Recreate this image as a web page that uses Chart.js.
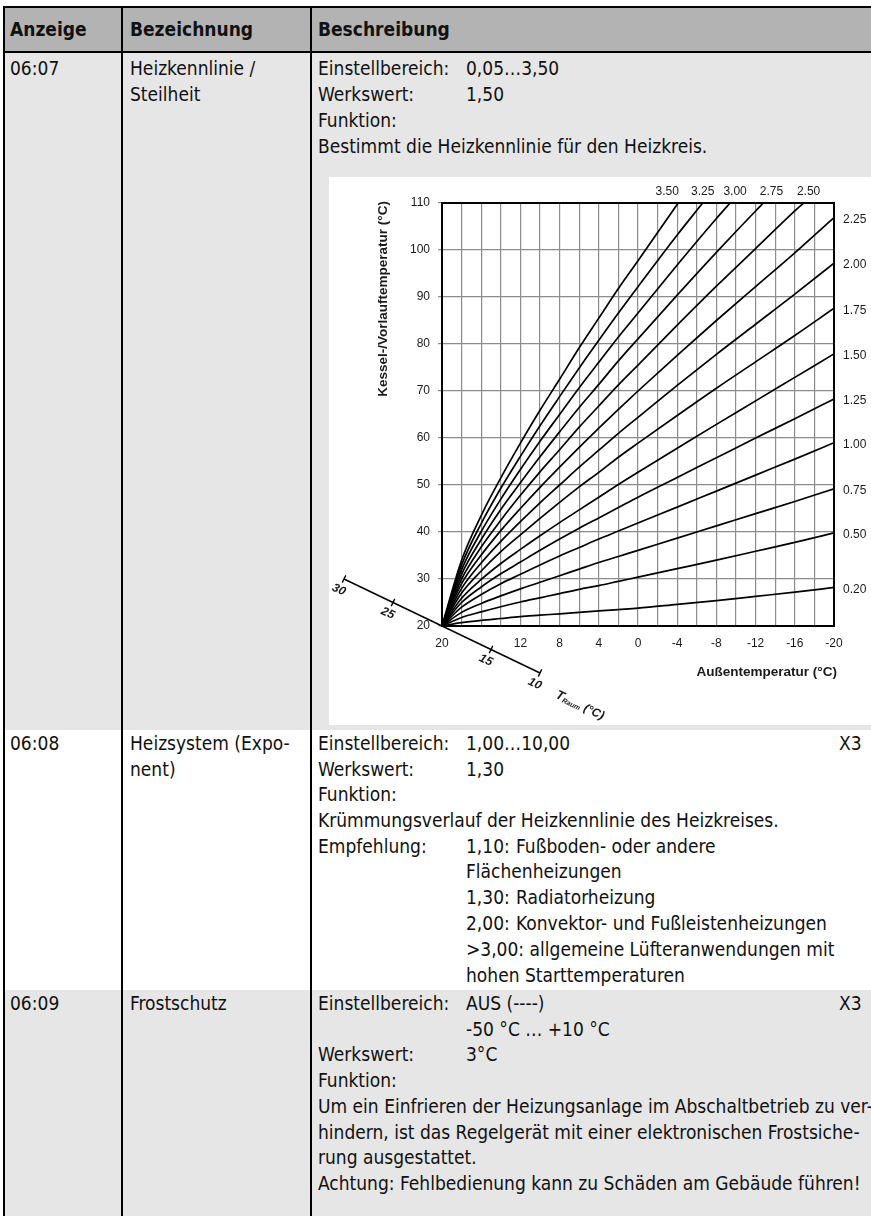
<!DOCTYPE html>
<html lang="de">
<head>
<meta charset="utf-8">
<title>Heizkennlinie / Steilheit</title>
<script src="https://cdn.jsdelivr.net/npm/chart.js@4.4.1/dist/chart.umd.min.js"></script>
<style>
  html, body { margin:0; padding:0; background:#fff; }
  body { width:871px; height:1216px; position:relative; overflow:hidden;
         font-family:"DejaVu Sans Condensed","DejaVu Sans",sans-serif; font-size:19px; color:#111; }
  .bg { position:absolute; left:4px; right:0; }
  .ln { position:absolute; background:#000; }
  .t { position:absolute; white-space:nowrap; line-height:26px; }
  .h { font-weight:bold; }
  #chartBox { position:absolute; left:329px; top:177px; width:542px; height:548px; background:#fff; }
</style>
</head>
<body>
<div class="bg" style="top:6px;height:46px;background:#b3b3b3"></div>
<div class="bg" style="top:52px;height:678px;background:#e6e6e6"></div>
<div class="bg" style="top:730px;height:260px;background:#fff"></div>
<div class="bg" style="top:990px;height:226px;background:#e6e6e6"></div>

<div class="ln" style="left:3px;right:0;top:6px;height:2px"></div>
<div class="ln" style="left:3px;right:0;top:51px;height:2px"></div>
<div class="ln" style="left:3px;width:2px;top:6px;bottom:0"></div>
<div class="ln" style="left:121px;width:2px;top:6px;bottom:0"></div>
<div class="ln" style="left:310px;width:2px;top:6px;bottom:0"></div>

<div class="t h" style="left:10px;top:16px">Anzeige</div>
<div class="t h" style="left:130px;top:16px">Bezeichnung</div>
<div class="t h" style="left:318px;top:16px">Beschreibung</div>

<div class="t" style="left:10px;top:55px">06:07</div>
<div class="t" style="left:130px;top:55px">Heizkennlinie /</div>
<div class="t" style="left:130px;top:81px">Steilheit</div>
<div class="t" style="left:318px;top:55px">Einstellbereich:</div>
<div class="t" style="left:466px;top:55px">0,05…3,50</div>
<div class="t" style="left:318px;top:81px">Werkswert:</div>
<div class="t" style="left:466px;top:81px">1,50</div>
<div class="t" style="left:318px;top:107px">Funktion:</div>
<div class="t" style="left:318px;top:133px">Bestimmt die Heizkennlinie für den Heizkreis.</div>

<div id="chartBox"><canvas id="chart-heizkennlinie" width="542" height="548"></canvas></div>

<div class="t" style="left:10px;top:730px">06:08</div>
<div class="t" style="left:130px;top:730px">Heizsystem (Expo-</div>
<div class="t" style="left:130px;top:756px">nent)</div>
<div class="t" style="left:318px;top:730px">Einstellbereich:</div>
<div class="t" style="left:466px;top:730px">1,00…10,00</div>
<div class="t" style="left:839px;top:730px">X3</div>
<div class="t" style="left:318px;top:756px">Werkswert:</div>
<div class="t" style="left:466px;top:756px">1,30</div>
<div class="t" style="left:318px;top:781px">Funktion:</div>
<div class="t" style="left:318px;top:807px">Krümmungsverlauf der Heizkennlinie des Heizkreises.</div>
<div class="t" style="left:318px;top:833px">Empfehlung:</div>
<div class="t" style="left:466px;top:833px">1,10:</div>
<div class="t" style="left:516px;top:833px">Fußboden- oder andere</div>
<div class="t" style="left:466px;top:858px">Flächenheizungen</div>
<div class="t" style="left:466px;top:884px">1,30:</div>
<div class="t" style="left:516px;top:884px">Radiatorheizung</div>
<div class="t" style="left:466px;top:910px">2,00:</div>
<div class="t" style="left:516px;top:910px">Konvektor- und Fußleistenheizungen</div>
<div class="t" style="left:466px;top:936px">&gt;3,00: allgemeine Lüfteranwendungen mit</div>
<div class="t" style="left:466px;top:962px">hohen Starttemperaturen</div>

<div class="t" style="left:10px;top:990px">06:09</div>
<div class="t" style="left:130px;top:990px">Frostschutz</div>
<div class="t" style="left:318px;top:990px">Einstellbereich:</div>
<div class="t" style="left:466px;top:990px">AUS (----)</div>
<div class="t" style="left:839px;top:990px">X3</div>
<div class="t" style="left:466px;top:1016px">-50 °C … +10 °C</div>
<div class="t" style="left:318px;top:1041px">Werkswert:</div>
<div class="t" style="left:466px;top:1041px">3°C</div>
<div class="t" style="left:318px;top:1067px">Funktion:</div>
<div class="t" style="left:318px;top:1093px">Um ein Einfrieren der Heizungsanlage im Abschaltbetrieb zu ver-</div>
<div class="t" style="left:318px;top:1119px">hindern, ist das Regelgerät mit einer elektronischen Frostsiche-</div>
<div class="t" style="left:318px;top:1144px">rung ausgestattet.</div>
<div class="t" style="left:318px;top:1170px">Achtung: Fehlbedienung kann zu Schäden am Gebäude führen!</div>

<script>
const outsideTemp = [20, 18, 16, 14, 12, 10, 8, 6, 4, 2, 0, -4, -8, -12, -16, -20];

// Kessel-/Vorlauftemperatur (°C) per Steilheit, null = above 110
const curve020 = [20, 20.7, 21.2, 21.6, 22.0, 22.3, 22.6, 22.9, 23.2, 23.5, 23.8, 24.6, 25.4, 26.3, 27.2, 28.2];
const curve050 = [20, 21.8, 23.0, 24.1, 25.1, 26.0, 26.9, 27.8, 28.6, 29.5, 30.4, 32.2, 34.0, 35.9, 37.8, 39.8];
const curve075 = [20, 22.9, 24.8, 26.4, 27.9, 29.3, 30.7, 32.1, 33.5, 34.8, 36.1, 38.7, 41.3, 43.9, 46.5, 49.2];
const curve100 = [20, 24.0, 26.7, 29.0, 31.0, 33.0, 34.9, 36.7, 38.5, 40.2, 41.9, 45.3, 48.7, 52.1, 55.5, 59.0];
const curve125 = [20, 25.0, 28.3, 31.1, 33.6, 36.1, 38.5, 40.8, 43.0, 45.2, 47.4, 51.6, 55.8, 60.0, 64.1, 68.3];
const curve150 = [20, 25.9, 29.9, 33.3, 36.3, 39.2, 42.0, 44.7, 47.4, 50.1, 52.7, 57.8, 62.9, 67.9, 72.9, 77.9];
const curve175 = [20, 27.0, 31.7, 35.8, 39.4, 42.9, 46.3, 49.6, 52.7, 55.9, 58.9, 64.8, 70.6, 76.2, 81.8, 87.6];
const curve200 = [20, 28.0, 33.4, 38.0, 42.2, 46.2, 50.0, 53.8, 57.4, 61.0, 64.4, 71.2, 77.8, 84.2, 90.6, 97.2];
const curve225 = [20, 29.0, 35.1, 40.3, 45.0, 49.5, 53.8, 58.0, 62.1, 66.1, 70.0, 77.6, 85.0, 92.2, 99.4, 106.9];
const curve250 = [20, 30.0, 36.8, 42.5, 47.8, 52.8, 57.5, 62.3, 66.8, 71.3, 75.5, 84.0, 92.3, 100.3, 108.3, null];
const curve275 = [20, 31.0, 38.4, 44.8, 50.5, 56.0, 61.3, 66.5, 71.4, 76.4, 81.1, 90.4, 99.5, 108.3, null, null];
const curve300 = [20, 32.0, 40.1, 47.0, 53.3, 59.3, 65.0, 70.7, 76.1, 81.5, 86.6, 96.8, 106.7, null, null, null];
const curve325 = [20, 33.0, 41.8, 49.3, 56.1, 62.6, 68.8, 74.9, 80.8, 86.6, 92.2, 103.2, null, null, null, null];
const curve350 = [20, 34.0, 43.5, 51.5, 58.9, 65.9, 72.5, 79.2, 85.5, 91.8, 97.7, null, null, null, null, null];

const curveNames = ["0.20", "0.50", "0.75", "1.00", "1.25", "1.50", "1.75", "2.00", "2.25", "2.50", "2.75", "3.00", "3.25", "3.50"];
const curveValues = [curve020, curve050, curve075, curve100, curve125, curve150, curve175, curve200, curve225, curve250, curve275, curve300, curve325, curve350];

// steep curves leave the chart at the 110 line
const topCurveNames = ["3.50", "3.25", "3.00", "2.75", "2.50"];
const topCrossTemp = [-4.1, -6.6, -9.4, -12.8, -16.9];

const xTickLabels = [20, 12, 8, 4, 0, -4, -8, -12, -16, -20];
const roomAxis = [30, 10];
const roomTicks = [30, 25, 15, 10];

const labelFont = '"Liberation Sans", Arial, sans-serif';
const topLabelNudge = [-11, 0, 5, 8, 5]; // px, so the labels do not collide

const datasets = curveNames.map((name, i) => {
    const pts = [];
    curveValues[i].forEach((v, j) => {
        if (v !== null) pts.push({ x: outsideTemp[j], y: v });
    });
    const k = topCurveNames.indexOf(name);
    if (k >= 0) pts.push({ x: topCrossTemp[k], y: 110 });
    return {
        label: name,
        data: pts,
        borderColor: "#000",
        borderWidth: 1.7,
        pointRadius: 0,
        cubicInterpolationMode: "monotone",
        fill: false
    };
});

// T Raum axis runs along Vorlauf = Außen, outside the plot area
datasets.push({
    label: "T Raum",
    data: roomAxis.map(r => ({ x: r, y: r })),
    borderColor: "#000",
    borderWidth: 1.5,
    pointRadius: 0,
    clip: false
});

const decor = {
    id: "decor",
    afterDraw(chart) {
        const { ctx, chartArea: a, scales: { x, y } } = chart;
        ctx.save();
        ctx.strokeStyle = "#000";
        ctx.lineWidth = 2;
        ctx.strokeRect(a.left, a.top, a.right - a.left, a.bottom - a.top);

        ctx.fillStyle = "#1a1a1a";
        ctx.font = "12px " + labelFont;
        ctx.textBaseline = "middle";
        ctx.textAlign = "left";
        curveNames.forEach((name, i) => {
            if (topCurveNames.includes(name)) return;
            const vals = curveValues[i];
            ctx.fillText(name, a.right + 9, y.getPixelForValue(vals[vals.length - 1]) + 2);
        });
        ctx.textAlign = "center";
        topCurveNames.forEach((name, k) => {
            ctx.fillText(name, x.getPixelForValue(topCrossTemp[k]) + topLabelNudge[k], a.top - 11);
        });

        ctx.font = "bold 13.5px " + labelFont;
        ctx.textAlign = "right";
        ctx.fillText("Außentemperatur (°C)", a.right + 3, a.bottom + 46);
        ctx.save();
        ctx.translate(a.left - 59, a.top - 2);
        ctx.rotate(-Math.PI / 2);
        ctx.fillText("Kessel-/Vorlauftemperatur (°C)", 0, 0);
        ctx.restore();

        // ticks and labels of the T Raum axis
        const pt = r => ({ px: x.getPixelForValue(r), py: y.getPixelForValue(r) });
        const p0 = pt(roomAxis[0]), p1 = pt(roomAxis[1]);
        const len = Math.hypot(p1.px - p0.px, p1.py - p0.py);
        const ux = (p1.px - p0.px) / len, uy = (p1.py - p0.py) / len;
        const nx = -uy, ny = ux;
        const ang = Math.atan2(uy, ux);
        ctx.lineWidth = 1.3;
        ctx.font = "italic bold 12px " + labelFont;
        ctx.textAlign = "center";
        roomTicks.forEach(r => {
            const p = pt(r);
            ctx.beginPath();
            ctx.moveTo(p.px - 4 * nx, p.py - 4 * ny);
            ctx.lineTo(p.px + 4 * nx, p.py + 4 * ny);
            ctx.stroke();
            ctx.save();
            ctx.translate(p.px + 12 * nx, p.py + 12 * ny);
            ctx.rotate(ang);
            ctx.fillText(String(r), 0, 0);
            ctx.restore();
        });
        const pl = pt(7.8);
        ctx.save();
        ctx.translate(pl.px + 12 * nx, pl.py + 12 * ny);
        ctx.rotate(ang);
        ctx.textAlign = "left";
        ctx.font = "italic bold 13px " + labelFont;
        ctx.fillText("T", 0, 0);
        let w = ctx.measureText("T").width;
        ctx.font = "italic bold 7px " + labelFont;
        ctx.fillText("Raum", w, 3);
        w += ctx.measureText("Raum").width;
        ctx.font = "italic bold 12px " + labelFont;
        ctx.fillText(" (°C)", w, 0);
        ctx.restore();
        ctx.restore();
    }
};

new Chart(document.getElementById("chart-heizkennlinie").getContext("2d"), {
    type: "line",
    data: { datasets: datasets },
    options: {
        responsive: false,
        animation: false,
        layout: { padding: { top: 26, right: 37, left: 0, bottom: 0 } },
        plugins: {
            legend: { display: false },
            tooltip: { enabled: false }
        },
        scales: {
            x: {
                type: "linear",
                reverse: true,
                min: -20,
                max: 20,
                afterFit: s => { s.height = 99; },
                border: { display: false },
                grid: { color: "#8c8c8c", lineWidth: 1.2, drawTicks: false },
                ticks: {
                    stepSize: 2,
                    autoSkip: false,
                    maxRotation: 0,
                    padding: 10,
                    color: "#1a1a1a",
                    font: { family: labelFont, size: 12 },
                    callback: v => xTickLabels.includes(v) ? String(v) : ""
                }
            },
            y: {
                min: 20,
                max: 110,
                afterFit: s => { s.width = 113; },
                border: { display: false },
                grid: { color: "#8c8c8c", lineWidth: 1.2, tickLength: 4 },
                ticks: {
                    stepSize: 10,
                    padding: 8,
                    color: "#1a1a1a",
                    font: { family: labelFont, size: 12 }
                }
            }
        }
    },
    plugins: [decor]
});
</script>
</body>
</html>
